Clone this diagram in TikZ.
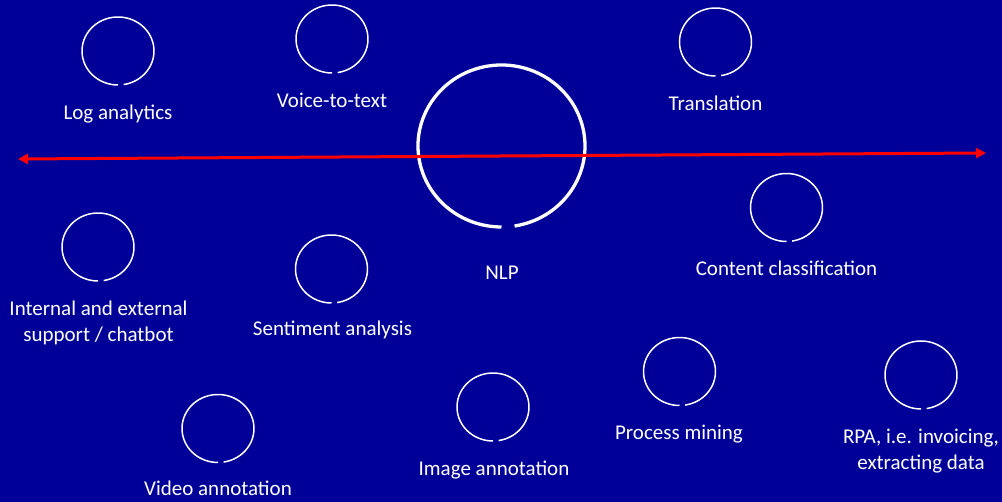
\documentclass[tikz,border=0pt]{standalone}
\usepackage{fontspec}
\setmainfont{Carlito}
\usepackage{tikz}
\usetikzlibrary{arrows.meta}

\definecolor{slideblue}{RGB}{0,0,153}
\definecolor{axisred}{RGB}{255,0,0}

% open ring: #1 style, #2 name, #3 centre
\newcommand{\ring}[3][small ring]{%
	\coordinate (#2) at (#3);
	\draw[#1] ([shift={({\ringx*cos(-81)},{\ringy*sin(-81)})}]#2)
	arc[start angle=-81, end angle=270, x radius=\ringx, y radius=\ringy];
}
\def\ringx{36}
\def\ringy{34}

\begin{document}
\begin{tikzpicture}[
		x=1pt, y=1pt,
		small ring/.style={draw=white, line width=1.5pt},
		big ring/.style={draw=white, line width=3.3pt},
		label/.style={
			text=white,
			anchor=base,
			align=center,
			inner sep=0pt,
			font=\fontsize{21}{26}\selectfont
		},
		axis/.style={
			draw=axisred,
			line width=3pt,
			{Triangle[length=10pt,width=10pt]}-{Triangle[length=10pt,width=10pt]}
		}
		]
		
		\fill[slideblue] (0,0) rectangle (1002,502);
		\useasboundingbox (0,0) rectangle (1002,502);
		
		\ring{log}{118,451}
		\ring{voice}{332,463}
		\ring{trans}{715.5,460}
		\ring{content}{786.5,294.5}
		\ring{support}{98,255}
		\ring{sentiment}{331.5,233}
		\ring{video}{218,73.5}
		\ring{image}{493,95}
		\ring{process}{679.5,130.5}
		\ring{rpa}{921,127}
		
		\def\ringx{83.5}
		\def\ringy{81}
		\ring[big ring]{nlp}{501.5,356}
		
		\node[label] (loglbl) at (118,382) {Log analytics};
		\node[label] (voicelbl) at (332,394) {Voice-to-text};
		\node[label] (translbl) at (715.5,391) {Translation};
		\node[label] (nlplbl) at (502,222) {NLP};
		\node[label] (contentlbl) at (786.5,226) {Content classification};
		\node[label] (supportlbl) at (98.5,160) {Internal and external\\ support / chatbot};
		\node[label] (sentimentlbl) at (332.5,166) {Sentiment analysis};
		\node[label] (videolbl) at (218,6) {Video annotation};
		\node[label] (imagelbl) at (494,26) {Image annotation};
		\node[label] (processlbl) at (679,62) {Process mining};
		\node[label] (rpalbl) at (921,32) {RPA, i.e. invoicing,\\ extracting data};
		
		\coordinate (west) at (18,343);
		\coordinate (east) at (986,349);
		\draw[axis] (west) -- (east);
		
	\end{tikzpicture}
\end{document}
